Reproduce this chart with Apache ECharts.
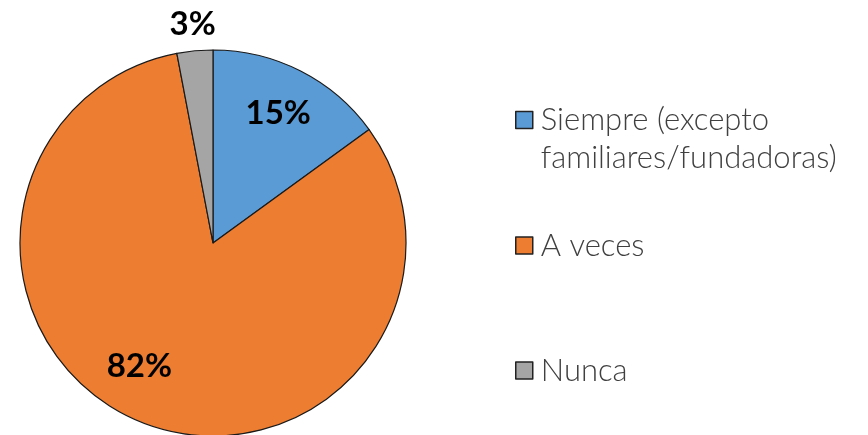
<!DOCTYPE html>
<html>
<head>
<meta charset="utf-8">
<script src="https://cdn.jsdelivr.net/npm/echarts@6/dist/echarts.min.js"></script>
<style>
  html, body { margin: 0; padding: 0; background: #fff; }
  #chart { width: 868px; height: 435px; }
</style>
</head>
<body>
<div id="chart"></div>
<script>
  const categories = ['Siempre (excepto\nfamiliares/fundadoras)', 'A veces', 'Nunca']
  const values = [15, 82, 3]
  const colors = ['#5B9BD5', '#ED7D31', '#A5A5A5']
  // nudge each label from the default inside spot to where the reference has it
  const labelShift = [[20, -41], [-37, 31], [-11, -120]]
  const legendTops = [63, 230, 355]

  let chart = echarts.init(document.getElementById('chart'))

  let data = categories.map((name, i) => ({
    name: name,
    value: values[i],
    itemStyle: { color: colors[i] }
  }))

  let legends = categories.map((name, i) => ({
    data: [name],
    orient: 'vertical',
    left: 515,
    top: legendTops[i],
    padding: 0,
    icon: 'rect',
    itemWidth: 17,
    itemHeight: 17,
    itemStyle: { borderColor: '#222', borderWidth: 1.5 },
    selectedMode: false,
    // leading blank line keeps the marker level with the first line
    formatter: i == 0 ? (n => '\n' + n) : '{name}',
    textStyle: {
      fontFamily: 'Lato',
      fontWeight: 300,
      fontSize: 31,
      color: '#404040',
      lineHeight: i == 0 ? 38 : 30,
      padding: [0, 0, 0, 3]
    }
  }))

  chart.setOption({
    animation: false,
    legend: legends,
    series: [{
      type: 'pie',
      center: [213, 243],
      radius: 193,
      startAngle: 90,
      clockwise: true,
      avoidLabelOverlap: false,
      itemStyle: { borderColor: '#1a1a1a', borderWidth: 1.2 },
      label: {
        show: true,
        position: 'inside',
        formatter: '{c}%',
        fontFamily: 'Lato',
        fontWeight: 'bold',
        fontSize: 33,
        color: '#000'
      },
      labelLayout: params => ({
        dx: labelShift[params.dataIndex][0],
        dy: labelShift[params.dataIndex][1]
      }),
      labelLine: { show: false },
      emphasis: { disabled: true },
      data: data
    }]
  })
</script>
</body>
</html>
